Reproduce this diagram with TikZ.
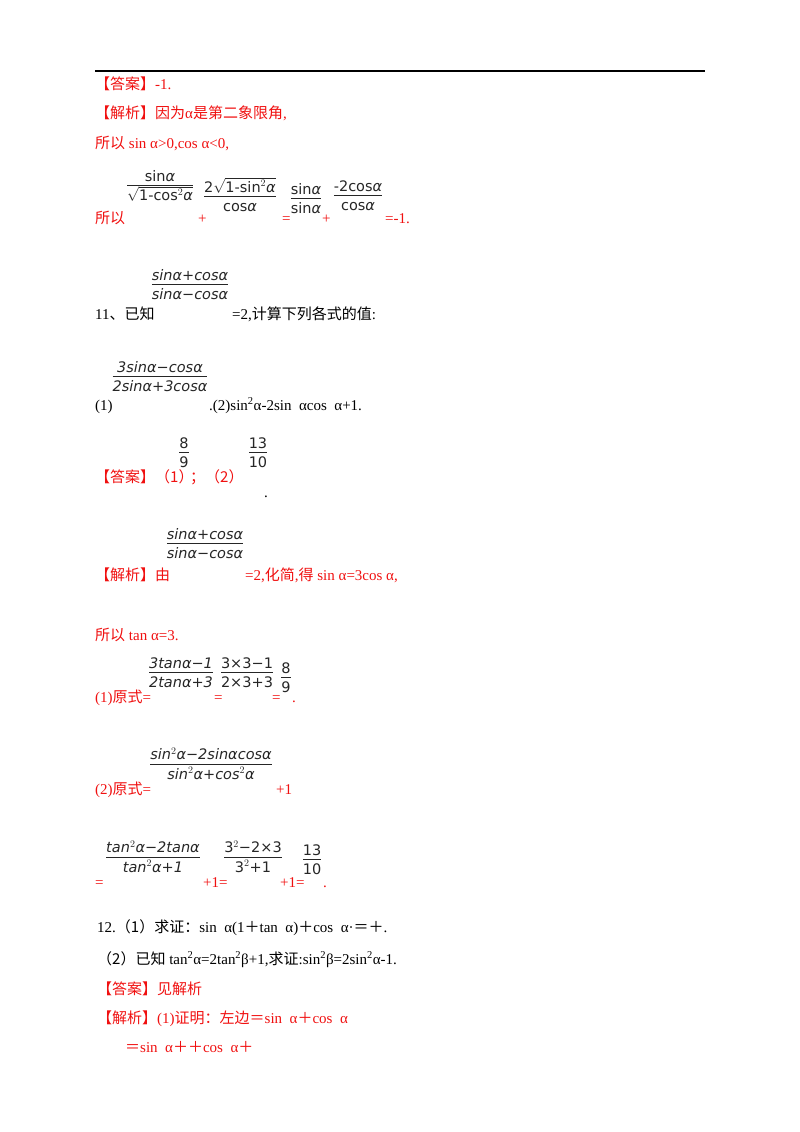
\documentclass[tikz,border=0pt]{standalone}
\usepackage{amsmath}
\usepackage{fontspec}
\setmainfont{Liberation Serif}
\newfontfamily\cjk{Noto Sans CJK SC}
\newfontfamily\fs{DejaVu Sans}
\definecolor{rd}{HTML}{F01010}
\newcommand{\C}[1]{{\cjk #1}}
\newcommand{\fr}[2]{\begin{tabular}{@{}c@{}}\fs #1\\[-1pt]\hline\rule{0pt}{15pt}\fs #2\end{tabular}}
\newcommand{\fri}[2]{\begin{tabular}{@{}c@{}}\fs\itshape #1\\[-1pt]\hline\rule{0pt}{15pt}\fs\itshape #2\end{tabular}}
\begin{document}
\begin{tikzpicture}[x=1pt,y=-1pt,
 t/.style={anchor=base west,inner sep=0pt,font=\fontsize{15}{17}\selectfont},
 r/.style={t,text=rd},
 f/.style={anchor=center,inner sep=0pt,font=\fontsize{14.5}{16}\selectfont,text=black!85}]
\useasboundingbox (0,0) rectangle (800,1132);
\draw[line width=1.2pt] (95,71) -- (705,71);
\node[r] (a1) at (95,89) {\C{【答案】}-1.};
\node[r] (a2) at (95,118) {\C{【解析】因为}α\C{是第二象限角},};
\node[r] (a3) at (95,148) {\C{所以} sin α>0,cos α<0,};
\node[r] (a4) at (95,223) {\C{所以}};
\node[f] (f1) at (160,188) {\fr{sin\itshape α}{$\sqrt{\text{\fs 1-cos$^2$\itshape α}}$}};
\node[r] at (198,223) {+};
\node[f] (f2) at (240,197) {\fr{2$\sqrt{\text{\fs 1-sin$^2$\itshape α}}$}{cos\itshape α}};
\node[r] at (282,223) {=};
\node[f] (f3) at (306,201) {\fr{sin\itshape α}{sin\itshape α}};
\node[r] at (322,223) {+};
\node[f] (f4) at (358,198) {\fr{-2cos\itshape α}{cos\itshape α}};
\node[r] at (385,223) {=-1.};
\node[f] (g1) at (190,287) {\fri{sinα+cosα}{sinα−cosα}};
\node[t] (q11) at (95,319) {11\C{、已知}};
\node[t] at (232,319) {=2,\C{计算下列各式的值}:};
\node[f] (g2) at (160,379) {\fri{3sinα−cosα}{2sinα+3cosα}};
\node[t] at (95,410) {(1)};
\node[t] at (209,410) {.(2)sin\textsuperscript{2}α-2sin\ \ αcos\ \ α+1.};
\node[r] (a5) at (95,482) {\C{【答案】（1）}};
\node[f] (h1) at (184,455) {\fr{8}{9}};
\node[r] at (190,482) {\C{；（2）}};
\node[f] (h2) at (258,455) {\fr{13}{10}};
\node[t] at (264,497) {.};
\node[f] (g3) at (205,546) {\fri{sinα+cosα}{sinα−cosα}};
\node[r] at (95,580) {\C{【解析】由}};
\node[r] at (245,580) {=2,\C{化简},\C{得} sin α=3cos α,};
\node[r] at (95,640) {\C{所以} tan α=3.};
\node[r] at (95,702) {(1)\C{原式}=};
\node[f] (k1) at (181,675) {\fri{3tanα−1}{2tanα+3}};
\node[r] at (214,702) {=};
\node[f] (k2) at (247,675) {\fr{3×3−1}{2×3+3}};
\node[r] at (272,702) {=};
\node[f] (k3) at (286,680) {\fr{8}{9}};
\node[r] at (292,702) {.};
\node[r] at (95,794) {(2)\C{原式}=};
\node[f] (k4) at (211,766) {\fri{sin$^2$α−2sinαcosα}{sin$^2$α+cos$^2$α}};
\node[r] at (276,794) {+1};
\node[r] at (95,887) {=};
\node[f] (k5) at (153,859) {\fri{tan$^2$α−2tanα}{tan$^2$α+1}};
\node[r] at (203,887) {+1=};
\node[f] (k6) at (253,859) {\fr{3$^2$−2×3}{3$^2$+1}};
\node[r] at (280,887) {+1=};
\node[f] (k7) at (312,862) {\fr{13}{10}};
\node[r] at (323,887) {.};
\node[t] at (97,932) {12.\C{（1）求证：}sin\ \ α(1\C{＋}tan\ \ α)\C{＋}cos\ \ α·\C{＝＋}.};
\node[t] at (97,964) {\C{（2）已知} tan\textsuperscript{2}α=2tan\textsuperscript{2}β+1,\C{求证}:sin\textsuperscript{2}β=2sin\textsuperscript{2}α-1.};
\node[r] at (97,994) {\C{【答案】见解析}};
\node[r] at (97,1023) {\C{【解析】}(1)\C{证明：左边＝}sin\ \ α\C{＋}cos\ \ α};
\node[r] at (125,1052) {\C{＝}sin\ \ α\C{＋＋}cos\ \ α\C{＋}};
\end{tikzpicture}
\end{document}
